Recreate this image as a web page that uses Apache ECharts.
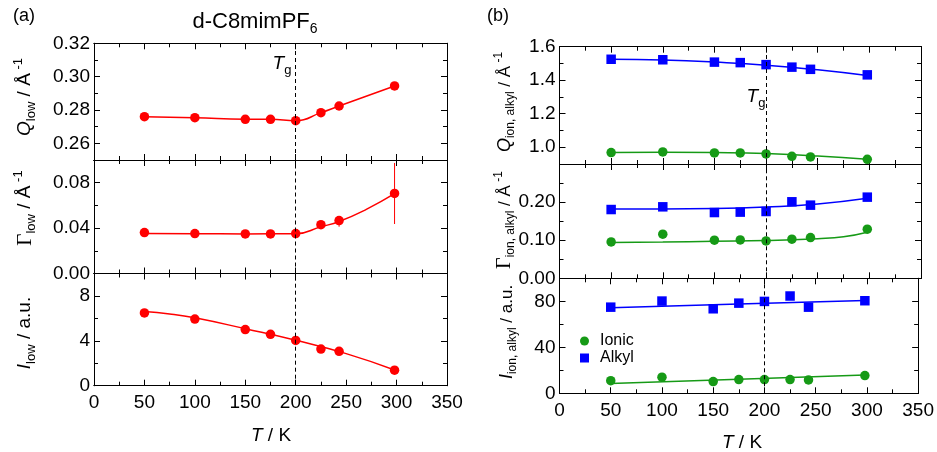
<!DOCTYPE html>
<html>
<head>
<meta charset="utf-8">
<script src="https://cdn.jsdelivr.net/npm/echarts@6/dist/echarts.min.js"></script>
<style>
  html, body { margin: 0; padding: 0; background: #fff; }
  #chart { width: 937px; height: 452px; }
</style>
</head>
<body>
<div id="chart"></div>
<script>
// temperatures (K)
const temps = [50, 100, 150, 175, 200, 225, 243, 298];

// (a) d-C8mimPF6 low-Q peak
const qLow = [0.2760, 0.2754, 0.2744, 0.2744, 0.2736, 0.2784, 0.2824, 0.2944];
const gammaLow = [0.0361, 0.0352, 0.0349, 0.0349, 0.0352, 0.0430, 0.0466, 0.0705];
const gammaLowErr = [[243, 0.0412, 0.0504], [298, 0.0436, 0.0974]];
const gammaLowFit = [[50, 0.0352], [100, 0.0350], [150, 0.0349], [200, 0.0350], [225, 0.0412], [243, 0.0458], [270, 0.0565], [298, 0.0703]];
const iLow = [6.49, 5.94, 5.00, 4.58, 4.03, 3.26, 3.06, 1.38];
const iLowFit = [[50, 6.62], [75, 6.40], [100, 6.05], [150, 5.08], [200, 4.05], [250, 2.86], [298, 1.40]];

// (b) ionic / alkyl peaks
const qIonic = [0.968, 0.972, 0.966, 0.966, 0.960, 0.946, 0.942, 0.928];
const qAlkyl = [1.525, 1.522, 1.508, 1.505, 1.493, 1.478, 1.465, 1.432];
const qIonicFit = [[50, 0.968], [100, 0.970], [150, 0.968], [200, 0.962], [250, 0.948], [298, 0.928]];
const qAlkylFit = [[50, 1.525], [100, 1.520], [150, 1.508], [200, 1.490], [250, 1.462], [298, 1.428]];
const gammaIonic = [0.0955, 0.1158, 0.1000, 0.1008, 0.0982, 0.1026, 0.1068, 0.1290];
const gammaAlkyl = [0.1805, 0.1876, 0.1726, 0.1737, 0.1753, 0.2008, 0.1920, 0.2130];
const gammaIonicFit = [[50, 0.094], [100, 0.095], [150, 0.097], [200, 0.099], [250, 0.104], [275, 0.109], [298, 0.121]];
const gammaAlkylFit = [[50, 0.182], [100, 0.182], [150, 0.183], [200, 0.187], [250, 0.195], [298, 0.210]];
const iIonic = [11.0, 14.0, 10.2, 11.9, 11.9, 11.9, 11.6, 15.4];
const iAlkyl = [74.9, 80.2, 73.5, 78.4, 79.9, 84.6, 74.9, 80.5];
const iIonicFit = [[50, 8.5], [175, 12.2], [298, 16.0]];
const iAlkylFit = [[50, 74.4], [175, 77.6], [298, 80.8]];

// tick values
const xMajor = [0, 50, 100, 150, 200, 250, 300, 350];
const xMinor = [25, 75, 125, 175, 225, 275, 325];
const panels = [
  { min: 0.25, max: 0.32, major: [0.26, 0.28, 0.30, 0.32], minor: [0.25, 0.27, 0.29, 0.31], dec: 2 },
  { min: 0, max: 0.1, major: [0, 0.04, 0.08], minor: [0.02, 0.06, 0.1], dec: 2 },
  { min: 0, max: 10, major: [0, 4, 8], minor: [2, 6, 10], dec: 0 },
  { min: 0.9, max: 1.6, major: [1.0, 1.2, 1.4, 1.6], minor: [0.9, 1.1, 1.3, 1.5], dec: 1 },
  { min: 0, max: 0.3, major: [0, 0.1, 0.2], minor: [0.05, 0.15, 0.25], dec: 2 },
  { min: 0, max: 100, major: [0, 40, 80], minor: [20, 60, 100], dec: 0 }
];

const RED = '#ff0000', BLUE = '#0000ff', GREEN = '#169a16';
const FONT = 'Liberation Sans, Arial, sans-serif';

const grids = [
  { left: 94, top: 43.3, width: 353, height: 116.7 },
  { left: 94, top: 160, width: 353, height: 113.5 },
  { left: 94, top: 273.5, width: 353, height: 112.2 },
  { left: 559.5, top: 46.7, width: 361.5, height: 117.3 },
  { left: 559.5, top: 164, width: 361.5, height: 114.3 },
  { left: 559.5, top: 278.3, width: 361.5, height: 115 }
];

function mkAxis (gi, pos, min, max, ticks, len, fmt) {
  return {
    type: 'value', gridIndex: gi, position: pos, min: min, max: max,
    axisLine: { show: true, onZero: false, lineStyle: { color: '#000', width: 1 } },
    axisTick: { show: true, inside: true, length: len, customValues: ticks, lineStyle: { color: '#000', width: 1 } },
    axisLabel: fmt ? {
      show: true, customValues: ticks, formatter: fmt, color: '#000',
      fontSize: 19, fontFamily: FONT, margin: pos === 'bottom' ? 8 : 4
    } : { show: false },
    splitLine: { show: false }
  };
}

const xAxes = [], yAxes = [];
grids.forEach((g, gi) => {
  const p = panels[gi];
  const bottomRow = gi === 2 || gi === 5;
  xAxes.push(mkAxis(gi, 'bottom', 0, 350, xMajor, 6, bottomRow ? v => String(v) : null));
  xAxes.push(mkAxis(gi, 'bottom', 0, 350, xMinor, 4, null));
  xAxes.push(mkAxis(gi, 'top', 0, 350, xMajor, 6, null));
  xAxes.push(mkAxis(gi, 'top', 0, 350, xMinor, 4, null));
  yAxes.push(mkAxis(gi, 'left', p.min, p.max, p.major, 6, v => v.toFixed(p.dec)));
  yAxes.push(mkAxis(gi, 'left', p.min, p.max, p.minor, 4, null));
  yAxes.push(mkAxis(gi, 'right', p.min, p.max, p.major, 6, null));
  yAxes.push(mkAxis(gi, 'right', p.min, p.max, p.minor, 4, null));
});

const pair = vals => temps.map((t, i) => [t, vals[i]]);

const tgLine = {
  silent: true, symbol: ['none', 'none'], label: { show: false },
  lineStyle: { color: '#000', type: [4, 3], width: 1 },
  data: [{ xAxis: 200 }]
};

function fitLine (gi, name, data, color, withMark) {
  const s = {
    name: name, type: 'line', xAxisIndex: gi * 4, yAxisIndex: gi * 4,
    data: data, smooth: true, showSymbol: false, silent: true,
    lineStyle: { color: color, width: 1.5 }, itemStyle: { color: color }, z: 2
  };
  if (withMark) s.markLine = tgLine;
  return s;
}
function points (gi, name, data, color, symbol) {
  return {
    name: name, type: 'scatter', xAxisIndex: gi * 4, yAxisIndex: gi * 4,
    data: data, symbol: symbol, symbolSize: 9.5,
    itemStyle: { color: color, opacity: 1 }, z: 3
  };
}

const series = [
  points(3, 'Ionic', pair(qIonic), GREEN, 'circle'),
  points(3, 'Alkyl', pair(qAlkyl), BLUE, 'rect'),
  fitLine(0, 'qLowLine', pair(qLow), RED, true),
  points(0, 'qLow', pair(qLow), RED, 'circle'),
  fitLine(1, 'gammaLowFit', gammaLowFit, RED, true),
  {
    type: 'custom', xAxisIndex: 4, yAxisIndex: 4, data: gammaLowErr,
    encode: { x: 0, y: [1, 2] }, silent: true, z: 2,
    renderItem: (params, api) => {
      const a = api.coord([api.value(0), api.value(1)]);
      const b = api.coord([api.value(0), api.value(2)]);
      return { type: 'line', shape: { x1: a[0], y1: a[1], x2: b[0], y2: b[1] }, style: { stroke: RED, lineWidth: 1 } };
    }
  },
  points(1, 'gammaLow', pair(gammaLow), RED, 'circle'),
  fitLine(2, 'iLowFit', iLowFit, RED, true),
  points(2, 'iLow', pair(iLow), RED, 'circle'),
  fitLine(3, 'qIonicFit', qIonicFit, GREEN, true),
  fitLine(3, 'qAlkylFit', qAlkylFit, BLUE, false),
  fitLine(4, 'gammaIonicFit', gammaIonicFit, GREEN, true),
  fitLine(4, 'gammaAlkylFit', gammaAlkylFit, BLUE, false),
  points(4, 'Ionic', pair(gammaIonic), GREEN, 'circle'),
  points(4, 'Alkyl', pair(gammaAlkyl), BLUE, 'rect'),
  fitLine(5, 'iIonicFit', iIonicFit, GREEN, true),
  fitLine(5, 'iAlkylFit', iAlkylFit, BLUE, false),
  points(5, 'Ionic', pair(iIonic), GREEN, 'circle'),
  points(5, 'Alkyl', pair(iAlkyl), BLUE, 'rect')
];

// rich-text styles for labels with sub/superscripts
const rich = {
  n: { fontSize: 19, fontFamily: FONT, lineHeight: 26, fill: '#000' },
  i: { fontSize: 19, fontFamily: FONT, fontStyle: 'italic', lineHeight: 26, fill: '#000' },
  g: { fontSize: 21, fontFamily: 'Liberation Serif, serif', lineHeight: 26, fill: '#000' },
  sub: { fontSize: 13, fontFamily: FONT, lineHeight: 15, verticalAlign: 'bottom', fill: '#000' },
  sup: { fontSize: 13, fontFamily: FONT, lineHeight: 13, verticalAlign: 'top', fill: '#000' },
  n2: { fontSize: 17, fontFamily: FONT, lineHeight: 24, fill: '#000' },
  i2: { fontSize: 18, fontFamily: FONT, fontStyle: 'italic', lineHeight: 24, fill: '#000' },
  g2: { fontSize: 20, fontFamily: 'Liberation Serif, serif', lineHeight: 24, fill: '#000' },
  sub2: { fontSize: 12, fontFamily: FONT, lineHeight: 14, verticalAlign: 'bottom', fill: '#000' },
  sup2: { fontSize: 12, fontFamily: FONT, lineHeight: 12, verticalAlign: 'top', fill: '#000' },
  t: { fontSize: 22, fontFamily: FONT, lineHeight: 28, fill: '#000' },
  tsub: { fontSize: 14, fontFamily: FONT, lineHeight: 16, verticalAlign: 'bottom', fill: '#000' },
  p: { fontSize: 18, fontFamily: FONT, lineHeight: 22, fill: '#000' }
};
function txt (x, y, text, rot) {
  return {
    type: 'text', x: x, y: y, rotation: rot ? Math.PI / 2 : 0, silent: true,
    style: { text: text, align: 'center', verticalAlign: 'middle', rich: rich, fontSize: 19, fontFamily: FONT, fill: '#000' }
  };
}

const graphics = [
  txt(24, 16, '{p|(a)}'),
  txt(498, 16, '{p|(b)}'),
  txt(255, 22, '{t|d-C8mimPF}{tsub|6}'),
  txt(282, 64, '{i|T}{sub|g}'),
  txt(756, 97, '{i|T}{sub|g}'),
  txt(25, 97, '{i|Q}{sub|low}{n| / Å}{sup| -1}', true),
  txt(25, 208, '{g|Γ}{sub|low}{n| / Å}{sup| -1}', true),
  txt(25, 333, '{i|I}{sub|low}{n| / a.u.}', true),
  txt(505, 102, '{i2|Q}{sub2|ion, alkyl}{n2| / Å}{sup2| -1}', true),
  txt(505, 220, '{g2|Γ}{sub2|ion, alkyl}{n2| / Å}{sup2| -1}', true),
  txt(507, 332, '{i2|I}{sub2|ion, alkyl}{n2| / a.u.}', true),
  txt(271, 436, '{i|T}{n| / K}'),
  txt(742, 443, '{i|T}{n| / K}')
];

const chart = echarts.init(document.getElementById('chart'));
chart.setOption({
  animation: false,
  backgroundColor: '#fff',
  textStyle: { fontFamily: FONT },
  grid: grids,
  xAxis: xAxes,
  yAxis: yAxes,
  legend: {
    data: [{ name: 'Ionic', icon: 'circle' }, { name: 'Alkyl', icon: 'rect' }],
    orient: 'vertical', left: 575, top: 328, itemWidth: 9, itemHeight: 9, itemGap: 1,
    textStyle: { fontSize: 16, fontFamily: FONT, color: '#000', padding: [0, 0, 0, 6] },
    selectedMode: false
  },
  graphic: graphics,
  series: series
});
</script>
</body>
</html>
